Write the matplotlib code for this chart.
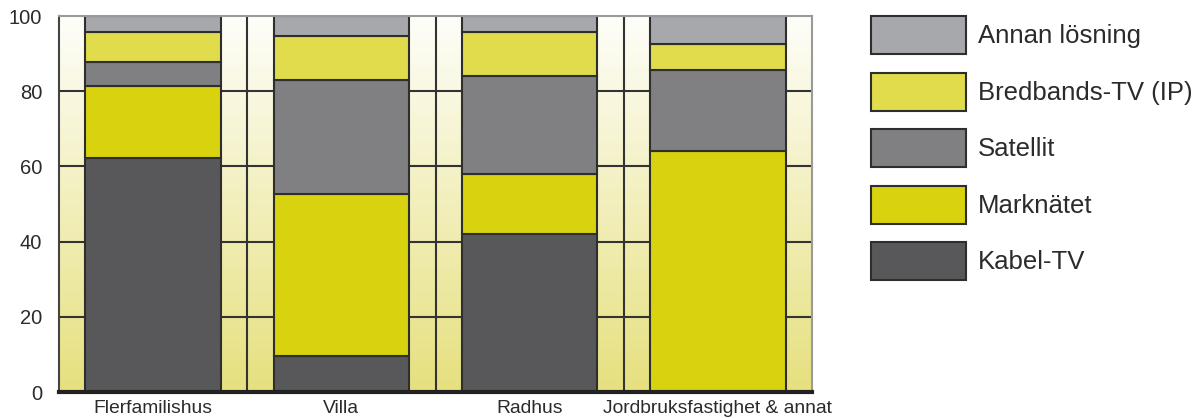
import numpy as np
import matplotlib.pyplot as plt
from matplotlib.colors import LinearSegmentedColormap

plt.rcParams["font.family"] = ["Liberation Sans", "DejaVu Sans"]

# ── data (percent of households) ───────────────────────────────────────────
categories = ["Flerfamilishus", "Villa", "Radhus", "Jordbruksfastighet & annat"]
series = ["Kabel-TV", "Marknätet", "Satellit", "Bredbands-TV (IP)", "Annan lösning"]
kabel = [62.2, 9.6, 41.9, 0.0]
marknat = [19.1, 43.1, 16.0, 64.2]
satellit = [6.5, 30.3, 26.1, 21.4]
bredband = [7.9, 11.7, 11.8, 7.0]
annan = [4.3, 5.3, 4.2, 7.4]
yticks = [0, 20, 40, 60, 80, 100]

values = [kabel, marknat, satellit, bredband, annan]
colors = ["#58585a", "#d8d30e", "#808082", "#e0dc4c", "#a7a8ab"]

fig = plt.figure(figsize=(11.97, 4.18), dpi=100)
ax = fig.add_axes([59 / 1197, 26 / 418, (812 - 59) / 1197, (392 - 16) / 418])

x = np.arange(len(categories))
ax.set_xlim(-0.5, len(categories) - 0.5)
ax.set_ylim(0, 100)

# background gradient: near white at top, pale yellow at bottom
grad = LinearSegmentedColormap.from_list("bg", ["#e6e07e", "#fefefa"])
ax.imshow(np.linspace(0, 1, 256).reshape(-1, 1), cmap=grad, origin="lower",
          extent=(-0.5, len(categories) - 0.5, 0, 100), aspect="auto", zorder=0)

# grid pieces between bars (bars paint over them)
for yv in yticks[1:-1]:
    ax.axhline(yv, color="#333333", lw=1.5, zorder=1)
for xv in x[:-1] + 0.5:
    ax.axvline(xv, color="#333333", lw=1.5, zorder=1)

handles = []
bottom = np.zeros(len(categories))
for name, vals, col in zip(series, values, colors):
    b = ax.bar(x, vals, width=0.72, bottom=bottom, color=col,
               edgecolor="#2e2e2e", linewidth=1.5, label=name, zorder=2)
    handles.append(b)
    bottom += np.array(vals)

ax.set_yticks(yticks)
ax.set_xticks(x)
ax.set_xticklabels(categories, fontsize=13.9)
ax.tick_params(axis="y", length=0, labelsize=14.5, colors="#2b2b2b", pad=12)
ax.tick_params(axis="x", length=0, colors="#2b2b2b", pad=6)

for side in ("top", "right"):
    ax.spines[side].set_color("#9a9a9a")
    ax.spines[side].set_linewidth(1.5)
ax.spines["left"].set_color("#444444")
ax.spines["left"].set_linewidth(1.5)
ax.spines["bottom"].set_color("#222222")
ax.spines["bottom"].set_linewidth(3)

fig.legend(handles[::-1], series[::-1], loc="upper left",
           bbox_to_anchor=(871 / 1197, 1 - 16 / 418), frameon=False,
           fontsize=18.5, handlelength=3.7, handleheight=1.9,
           labelspacing=0.72, handletextpad=0.47, borderpad=0, borderaxespad=0,
           labelcolor="#2b2b2b")

fig.savefig("out.png", dpi=100, facecolor="white")
